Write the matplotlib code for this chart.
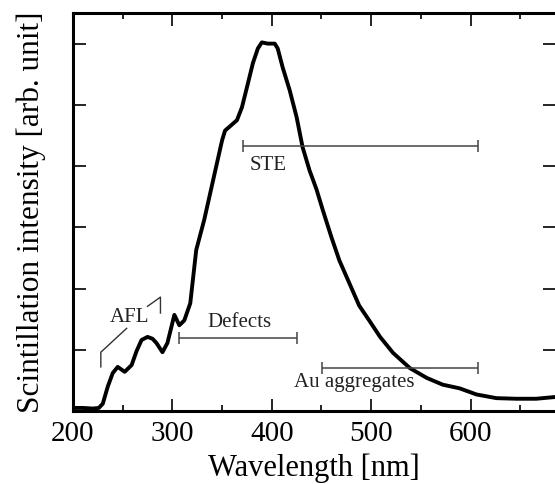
import matplotlib.pyplot as plt
from matplotlib.ticker import MultipleLocator

plt.rcParams["font.family"] = ["Liberation Serif", "DejaVu Serif"]

# spectrum
wavelength = [200, 210, 220, 226, 230, 235, 240, 245, 252, 259, 264, 269, 275, 280,
              284, 290, 295, 302, 307, 312, 318, 324, 332, 341, 350, 353, 358, 365,
              370, 376, 381, 386, 390, 396, 403, 406, 411, 418, 425, 431, 438, 445,
              451, 460, 468, 478, 488, 498, 509, 522, 539, 556, 572, 589, 606, 626,
              646, 666, 686]
intensity = [0.05, 0.05, 0.04, 0.05, 0.12, 0.40, 0.62, 0.72, 0.64, 0.75, 0.98, 1.16,
             1.21, 1.18, 1.11, 0.96, 1.11, 1.57, 1.40, 1.48, 1.76, 2.63, 3.12, 3.77,
             4.42, 4.58, 4.65, 4.75, 4.96, 5.35, 5.68, 5.92, 6.02, 6.00, 6.00, 5.92,
             5.61, 5.24, 4.80, 4.31, 3.93, 3.62, 3.30, 2.84, 2.46, 2.09, 1.72, 1.48,
             1.21, 0.95, 0.70, 0.54, 0.43, 0.37, 0.27, 0.21, 0.20, 0.20, 0.23]

band_names = ["STE", "Defects", "Au aggregates"]
band_start = [371, 307, 451]
band_end = [608, 425, 608]
band_level = [4.32, 1.19, 0.70]
label_pos = [(396, 4.01), (367, 1.44), (483, 0.46)]

fig = plt.figure(figsize=(5.55, 4.84), dpi=100)
ax = fig.add_axes([73 / 555, 1 - 411 / 484, 1 - 73 / 555, 398 / 484])

ax.plot(wavelength, intensity, color="black", lw=2.8, solid_joinstyle="round")

for name, x0, x1, y, (tx, ty) in zip(band_names, band_start, band_end, band_level, label_pos):
    ax.errorbar([(x0 + x1) / 2], [y], xerr=[(x1 - x0) / 2], color="#444444",
                lw=1.1, capsize=4, capthick=1.1, fmt="none")
    ax.text(tx, ty, name, ha="center", va="center", fontsize=15, color="#222222")

# AFL bracket
ax.plot([228, 228, 254], [0.72, 0.96, 1.35], color="#333333", lw=1.0)
ax.plot([275, 288, 288], [1.71, 1.86, 1.60], color="#333333", lw=1.0)
ax.text(257, 1.52, "AFL", ha="center", va="center", fontsize=15, color="#222222")

ax.set_xlim(200, 685)
ax.set_ylim(0, 6.5)
ax.xaxis.set_major_locator(MultipleLocator(100))
ax.xaxis.set_minor_locator(MultipleLocator(50))
ax.yaxis.set_major_locator(MultipleLocator(1))
ax.set_yticklabels([])
ax.tick_params(which="both", direction="in", top=True, right=True, width=1.2,
               labelsize=21)
ax.tick_params(axis="x", which="major", pad=7)
ax.tick_params(which="major", length=9)
ax.tick_params(which="minor", length=4.5)
for s in ["left", "bottom", "top"]:
    ax.spines[s].set_linewidth(2.2)
ax.spines["right"].set_visible(False)

ax.set_xlabel("Wavelength [nm]", fontsize=22)
ax.set_ylabel("Scintillation intensity [arb. unit]", fontsize=22.5)
ax.xaxis.set_label_coords(0.5, -0.107)
ax.yaxis.set_label_coords(-0.055, 0.5)

plt.savefig("out.png", dpi=100)
